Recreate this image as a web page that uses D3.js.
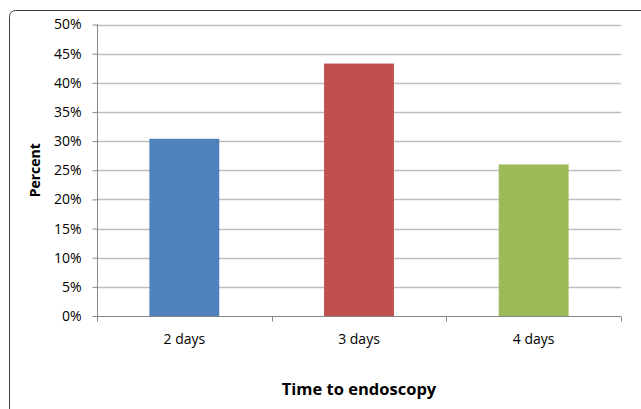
<!DOCTYPE html>
<html><head><meta charset="utf-8">
<script src="https://cdn.jsdelivr.net/npm/d3@7"></script>
<style>html,body{margin:0;padding:0;background:#fff;}svg{display:block;}</style>
</head><body>
<svg id="c" width="641" height="409"></svg>
<script>
const categories = ["2 days", "3 days", "4 days"];
const values = [0.304, 0.433, 0.26];
const colors = ["#4F81BD", "#C0504D", "#9BBB59"];
const yTicks = [0, 0.05, 0.10, 0.15, 0.20, 0.25, 0.30, 0.35, 0.40, 0.45, 0.50];
const yTitle = "Percent";
const xTitle = "Time to endoscopy";

const svg = d3.select("#c");
const font = "'Open Sans', 'DejaVu Sans', sans-serif";
const m = {l: 97, r: 621, t: 24.5, b: 316};

// outer border
svg.append("rect").attr("x", 9.5).attr("y", 10.5).attr("width", 640).attr("height", 420)
  .attr("rx", 6).attr("fill", "none").attr("stroke", "#404040").attr("stroke-width", 1);

const x = d3.scaleBand().domain(categories).range([m.l, m.r]).paddingInner(0.6).paddingOuter(0.3);
const y = d3.scaleLinear().domain([0, 0.5]).range([m.b, m.t]);

// gridlines
svg.append("g").selectAll("line").data(yTicks.slice(1)).join("line")
  .attr("x1", m.l).attr("x2", m.r)
  .attr("y1", d => Math.round(y(d)) + 0.5).attr("y2", d => Math.round(y(d)) + 0.5)
  .attr("stroke", "#BEBEBE").attr("stroke-width", 1.5);

// bars
svg.append("g").selectAll("rect").data(values).join("rect")
  .attr("x", (d, i) => x(categories[i])).attr("width", x.bandwidth())
  .attr("y", d => y(d)).attr("height", d => y(0) - y(d))
  .attr("fill", (d, i) => colors[i]);

// y axis
const ya = d3.axisLeft(y).tickValues(yTicks).tickFormat(d3.format(".0%")).tickSize(5).tickPadding(11);
const gy = svg.append("g").attr("transform", `translate(${m.l + 0.5},0)`).call(ya);
gy.select(".domain").attr("stroke", "#868686").attr("d", `M0,${m.t}V${m.b}`);
gy.selectAll(".tick line").attr("stroke", "#868686");
gy.selectAll("text").attr("font-family", font).attr("font-size", 14).attr("fill", "#000");

// x axis
const xEdge = d3.scaleLinear().domain([0, categories.length]).range([m.l, m.r]);
const gx = svg.append("g").attr("transform", `translate(0,${m.b + 0.5})`);
gx.append("line").attr("x1", m.l).attr("x2", m.r).attr("stroke", "#868686");
gx.selectAll("line.t").data(d3.range(categories.length + 1)).join("line").attr("class", "t")
  .attr("x1", d => Math.round(xEdge(d)) + 0.5).attr("x2", d => Math.round(xEdge(d)) + 0.5)
  .attr("y1", 0).attr("y2", 5).attr("stroke", "#868686");
gx.selectAll("text").data(categories).join("text")
  .attr("x", d => x(d) + x.bandwidth() / 2).attr("y", 27)
  .attr("text-anchor", "middle").attr("font-family", font).attr("font-size", 14).text(d => d);

// titles
svg.append("text").attr("transform", `translate(40,${(m.t + m.b) / 2}) rotate(-90)`)
  .attr("text-anchor", "middle").attr("font-family", font).attr("font-weight", "bold")
  .attr("font-size", 14).text(yTitle);
svg.append("text").attr("x", (m.l + m.r) / 2).attr("y", 395)
  .attr("text-anchor", "middle").attr("font-family", font).attr("font-weight", "bold")
  .attr("font-size", 16.5).text(xTitle);
</script>
</body></html>
